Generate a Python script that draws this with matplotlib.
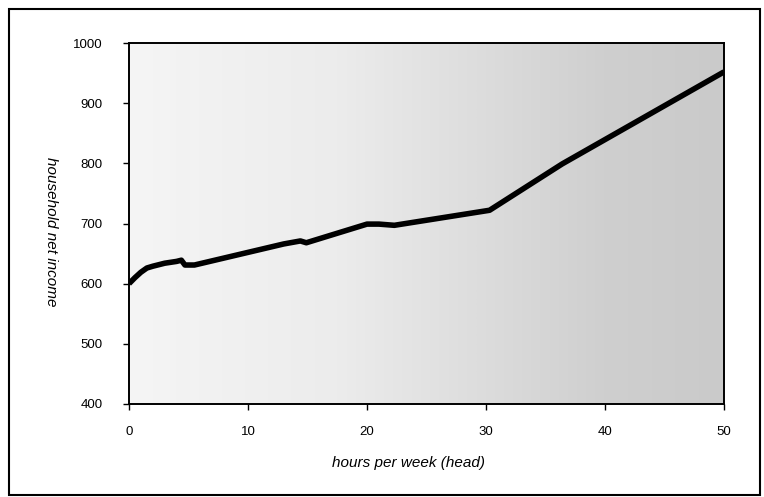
import numpy as np
import matplotlib
matplotlib.use("Agg")
import matplotlib.pyplot as plt
from matplotlib.patches import Rectangle
from matplotlib.colors import LinearSegmentedColormap

hours = [0, 0.5, 1.0, 1.5, 2.0, 3.0, 4.0, 4.4, 4.7, 5.5, 10.0, 13.0, 14.4, 14.9,
         20.0, 21.0, 22.3, 30.3, 36.4, 50.0]
income = [600, 610, 619, 626, 629, 634, 637, 639, 631, 631, 652, 666, 671, 668,
          699, 699, 697, 722, 799, 952]

x_ticks = [0, 10, 20, 30, 40, 50]
y_ticks = [400, 500, 600, 700, 800, 900, 1000]
x_label = "hours per week (head)"
y_label = "household net income"

W, H = 764, 497
fig = plt.figure(figsize=(W / 100, H / 100), dpi=100)
fig.patch.set_facecolor("white")

ax = fig.add_axes([129 / W, 1 - 404 / H, (724 - 129) / W, (404 - 43) / H])

# stippled background approximated by a horizontal grey gradient
cmap = LinearSegmentedColormap.from_list(
    "stip", [(0.0, "#f5f5f5"), (0.35, "#ececec"), (0.6, "#dcdcdc"),
             (0.8, "#cfcfcf"), (1.0, "#cacaca")])
grad = np.linspace(0, 1, 256).reshape(1, -1)
ax.imshow(grad, cmap=cmap, aspect="auto", extent=[0, 50, 400, 1000],
          interpolation="bilinear", zorder=0)

ax.plot(hours, income, color="black", lw=4.0, solid_joinstyle="round",
        solid_capstyle="butt", zorder=3)

ax.set_xlim(0, 50)
ax.set_ylim(400, 1000)
ax.set_xticks(x_ticks)
ax.set_yticks(y_ticks)
font = "Liberation Sans"
ax.set_xticklabels([str(v) for v in x_ticks], fontsize=9.5, family=font)
ax.set_yticklabels([str(v) for v in y_ticks], fontsize=9.5, family=font)
ax.tick_params(axis="x", direction="out", length=4, width=1, pad=12, colors="black")
ax.tick_params(axis="y", direction="out", length=4, width=1, pad=15, colors="black")
for s in ax.spines.values():
    s.set_color("black")
    s.set_linewidth(1.4)

fig.text(408 / W, 1 - 463 / H, x_label, fontsize=11, style="italic",
         family=font, ha="center", va="center")
fig.text(51 / W, 1 - 232 / H, y_label, fontsize=11, style="italic",
         family=font, ha="center", va="center", rotation=270)

fig.patches.append(Rectangle((9 / W, 1 - 495 / H), (760 - 9) / W, (495 - 9) / H,
                             transform=fig.transFigure, fill=False,
                             edgecolor="black", lw=1.5))

fig.savefig("out.png", dpi=100, facecolor="white")
